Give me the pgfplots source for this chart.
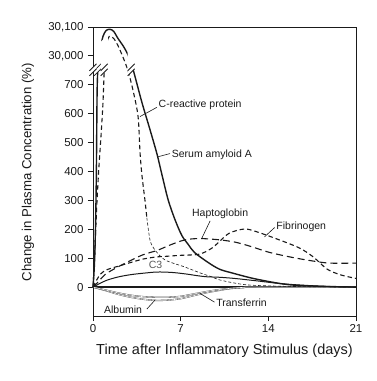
\documentclass[border=0pt]{standalone}
\usepackage{fontspec}
\setmainfont{Liberation Sans}
\usepackage{pgfplots}
\pgfplotsset{compat=1.18}
\definecolor{ink}{HTML}{1A1A1A}
\newcommand{\brk}[2]{%
  \fill[white] ([shift={(-3.5pt,-6pt)}]axis cs:#1,#2) -- ++(7pt,7pt) -- ++(0,5pt) -- ++(-7pt,-7pt) -- cycle;
  \draw[ink,line width=0.8pt] ([shift={(-3.5pt,-6pt)}]axis cs:#1,#2) -- ++(7pt,7pt);
  \draw[ink,line width=0.8pt] ([shift={(-3.5pt,-1pt)}]axis cs:#1,#2) -- ++(7pt,7pt);}
\begin{document}
\begin{tikzpicture}[x=1pt,y=1pt]
\path (-93,-65) rectangle (284,316);
\begin{axis}[
  at={(0,0)}, anchor=south west,
  width=263pt, height=289pt, scale only axis,
  xmin=0, xmax=21, ymin=-100, ymax=900,
  clip=false,
  xtick={0,7,14,21},
  ytick={0,100,200,300,400,500,600,700,800,900},
  yticklabels={0,100,200,300,400,500,600,700,{30,000},{30,100}},
  xtick pos=bottom, ytick pos=left,
  tick align=outside, major tick length=5pt,
  tick style={ink, line width=0.8pt},
  axis line style={ink, line width=0.9pt},
  ticklabel style={font=\fontsize{11.5}{13}\selectfont, text=ink},
  /pgf/number format/assume math mode=true,
  yticklabel style={xshift=-1pt},
  xlabel={Time after Inflammatory Stimulus (days)},
  ylabel={Change in Plasma Concentration (\%)},
  xlabel style={at={(axis description cs:0.5,-0.121)}, anchor=center, font=\fontsize{14.5}{16}\selectfont, text=ink},
  ylabel style={at={(axis description cs:-0.247,0.498)}, anchor=center, font=\fontsize{13.2}{15}\selectfont, text=ink},
]
% zero line
\addplot[ink, line width=1.3pt] coordinates {(0,0) (21,0)};
% Albumin
\addplot[black!75, line width=0.35pt, double=white, double distance=0.6pt, smooth] coordinates {
(0,0) (1,-12) (2,-25) (3,-35) (4,-42) (5,-46) (6,-45) (7,-40) (8,-30) (9,-20) (10,-12) (11,-5) (12,-2) (13,0) (21,0)};
% Transferrin
\addplot[black!75, line width=0.35pt, double=white, double distance=0.6pt, smooth] coordinates {
(0,0) (1,-10) (2,-20) (3,-28) (4,-33) (5,-35) (6,-35) (7,-32) (8,-24) (9,-16) (10,-9) (11,-4) (12,-1) (13,0) (21,0)};
% C3
\addplot[ink, line width=1.0pt, smooth] coordinates {
(0,0) (1,22) (2,35) (3,43) (4,48) (5,52) (5.7,52) (6.5,50) (7.5,45) (8.1,41) (9,36) (10.1,34) (11.3,30) (13,22) (15,12) (17,6) (19,2) (21,0)};
% Haptoglobin (long dash)
\addplot[ink, line width=1.1pt, dash pattern=on 7pt off 4pt, smooth] coordinates {
(0,0) (0.5,22) (1,45) (2,70) (3,92) (4,112) (5.2,128) (6,143) (7.3,163) (8.5,168) (10,164) (11.3,156) (12.5,142) (14.1,120) (16,102) (17.6,90) (18.9,83) (21,83)};
% Fibrinogen (short dash)
\addplot[ink, line width=1.1pt, dash pattern=on 4.5pt off 3pt, smooth] coordinates {
(0,0) (0.3,25) (0.6,45) (1,58) (1.5,66) (2,72) (3,85) (4,97) (5,104) (6,107) (7,110) (8.5,114) (9.5,135) (10.1,158) (10.9,187) (12.1,201) (13.1,191) (14.9,163) (16.5,135) (17.6,104) (18.7,62) (19.8,42) (21,30)};
% C-reactive protein (dashed big curve)
\addplot[ink, line width=1.1pt, dash pattern=on 4.5pt off 3pt, smooth] coordinates {
(0,0) (0.1,80) (0.2,180) (0.3,280) (0.45,400) (0.65,530) (0.8,640) (0.9,753) (1.0,810) (1.2,860) (1.4,868) (1.7,858) (2.0,835) (2.4,795) (2.8,748) (3.2,680) (3.6,590) (3.75,470) (3.9,390) (4.15,300) (4.3,240)};
\addplot[ink, line width=0.6pt, dash pattern=on 3pt off 2pt, smooth] coordinates {
(4.3,240) (4.45,190) (4.6,155) (4.95,128) (5.75,94) (7.3,70) (8.5,50) (9.5,35) (10.1,25) (11.3,14) (12.5,7) (15,3) (18,1) (21,0)};
% Serum amyloid A (solid big curve)
\addplot[ink, line width=1.4pt, smooth] coordinates {
(0,0) (0.08,50) (0.15,120) (0.22,250) (0.27,400) (0.3,550) (0.33,680) (0.38,750) (0.47,795) (0.6,830) (0.8,868) (1.05,888) (1.36,892) (1.65,885) (2.0,860) (2.4,835) (2.8,803) (3.2,753) (3.9,640) (4.55,545) (5.1,462) (5.5,390) (6.0,302) (6.55,233) (7.1,178) (7.6,148) (8.1,120) (9.2,85) (10.1,62) (11.1,49) (13,28) (15.5,9) (18,3) (21,0)};
% break marks on curves
\brk{0.37}{752}
\brk{0.9}{752}
\brk{3.05}{752}
% leaders and labels
\draw[ink, line width=0.6pt] (axis cs:3.75,590) -- (axis cs:5.1,622);
\node[anchor=west, inner sep=1pt, font=\fontsize{10.5}{12}\selectfont, text=ink] at (axis cs:5.15,632) {C-reactive protein};
\draw[ink, line width=0.6pt] (axis cs:5.19,451) -- (axis cs:6.15,462);
\node[anchor=west, inner sep=1pt, font=\fontsize{10.5}{12}\selectfont, text=ink] at (axis cs:6.2,457) {Serum amyloid A};
\draw[ink, line width=0.6pt] (axis cs:8.7,170) -- (axis cs:9.35,229);
\node[anchor=center, inner sep=1pt, font=\fontsize{10.5}{12}\selectfont, text=ink] at (axis cs:10.15,253) {Haptoglobin};
\draw[ink, line width=0.6pt] (axis cs:13.7,174) -- (axis cs:14.5,206);
\node[anchor=west, inner sep=1pt, font=\fontsize{10.5}{12}\selectfont, text=ink] at (axis cs:14.55,209) {Fibrinogen};
\node[anchor=center, inner sep=1pt, font=\fontsize{10.5}{12}\selectfont, text=gray!70!black] at (axis cs:5.0,76) {C3};
\draw[ink, line width=0.6pt] (axis cs:4.3,-76) -- (axis cs:4.95,-45);
\node[anchor=center, inner sep=1pt, font=\fontsize{10.5}{12}\selectfont, text=ink] at (axis cs:2.4,-77) {Albumin};
\draw[ink, line width=0.6pt] (axis cs:9.7,-52) -- (axis cs:8.55,-22);
\node[anchor=west, inner sep=1pt, font=\fontsize{10.5}{12}\selectfont, text=ink] at (axis cs:9.75,-53) {Transferrin};
\coordinate (yb) at (axis cs:0,752);
\end{axis}
\fill[white] ([shift={(-3.5pt,-6pt)}]yb) -- ++(7pt,7pt) -- ++(0,5pt) -- ++(-7pt,-7pt) -- cycle;
\draw[ink,line width=0.8pt] ([shift={(-3.5pt,-6pt)}]yb) -- ++(7pt,7pt);
\draw[ink,line width=0.8pt] ([shift={(-3.5pt,-1pt)}]yb) -- ++(7pt,7pt);
\end{tikzpicture}
\end{document}
